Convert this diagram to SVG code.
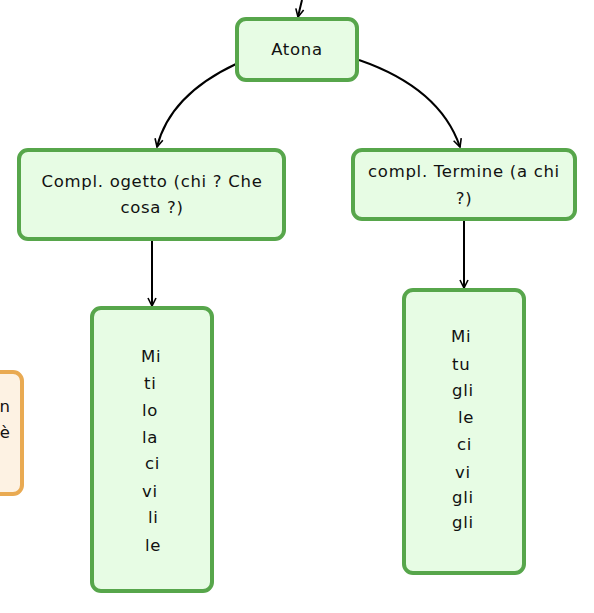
<svg xmlns="http://www.w3.org/2000/svg" width="594" height="613" viewBox="0 0 594 613">
<style>
.g{fill:#e7fce4;stroke:#57a64b;stroke-width:4}
.o{fill:#fdf2e3;stroke:#e9aa52;stroke-width:4}
text{font-family:"DejaVu Sans","Liberation Sans",sans-serif;font-size:16.5px;letter-spacing:0.7px;fill:#111}
.c{text-anchor:middle}
.r{text-anchor:end;letter-spacing:0}
.e{fill:none;stroke:#000;stroke-width:2}
</style>
<defs>
<marker id="a" viewBox="0 0 10 10" refX="9" refY="5" markerWidth="10" markerHeight="10" markerUnits="userSpaceOnUse" orient="auto">
<path d="M1,1 L9,5 L1,9" fill="none" stroke="#000" stroke-width="1.6"/>
</marker>
</defs>
<g id="connectors">
<path class="e" d="M302,0 Q300,8 298,17" marker-end="url(#a)"/>
<path class="e" d="M236,64 Q170,95 157,147" marker-end="url(#a)"/>
<path class="e" d="M359,60 Q440,88 460,147" marker-end="url(#a)"/>
<path class="e" d="M152,241 L152,306" marker-end="url(#a)"/>
<path class="e" d="M464,221 L464,288" marker-end="url(#a)"/>
</g>
<g id="n-left">
<rect class="o" x="-30" y="372" width="52" height="122" rx="9"/>
<text class="r" x="10" y="412">n</text>
<text class="r" x="10" y="438">è</text>
</g>
<g id="n-atona">
<rect class="g" x="237" y="19" width="120" height="61" rx="9"/>
<text class="c" x="297" y="55">Atona</text>
</g>
<g id="n-ogetto">
<rect class="g" x="19" y="150" width="265" height="89" rx="9"/>
<text class="c" x="152" y="187">Compl. ogetto (chi ? Che</text>
<text class="c" x="152" y="213">cosa ?)</text>
</g>
<g id="n-termine">
<rect class="g" x="353" y="150" width="222" height="69" rx="9"/>
<text class="c" x="464" y="177">compl. Termine (a chi</text>
<text class="c" x="464" y="204">?)</text>
</g>
<g id="n-list1">
<rect class="g" x="92" y="308" width="120" height="283" rx="9"/>
<text x="141" y="362">Mi</text>
<text x="144" y="389">ti</text>
<text x="142" y="416">lo</text>
<text x="142" y="443">la</text>
<text x="145" y="469">ci</text>
<text x="142" y="497">vi</text>
<text x="148" y="523">li</text>
<text x="145" y="551">le</text>
</g>
<g id="n-list2">
<rect class="g" x="404" y="290" width="120" height="283" rx="9"/>
<text x="451" y="342">Mi</text>
<text x="452" y="370">tu</text>
<text x="452" y="396">gli</text>
<text x="458" y="423">le</text>
<text x="457" y="450">ci</text>
<text x="455" y="478">vi</text>
<text x="452" y="503">gli</text>
<text x="452" y="528">gli</text>
</g>
</svg>
